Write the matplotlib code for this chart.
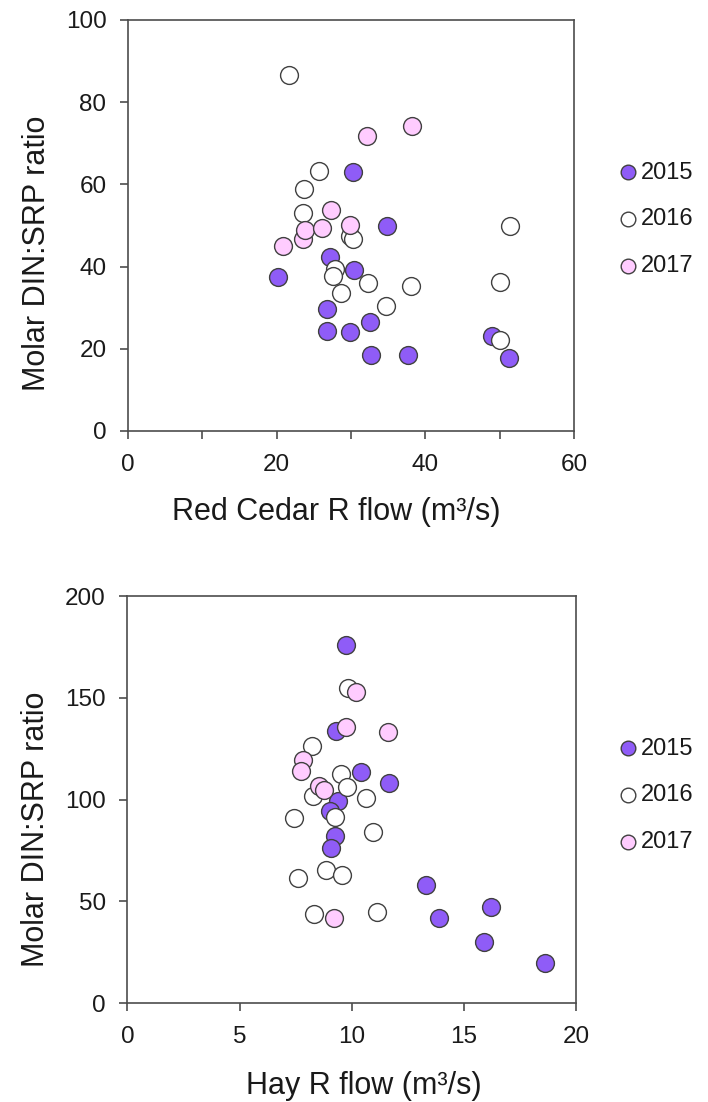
import matplotlib
matplotlib.use("Agg")
import matplotlib.pyplot as plt
from matplotlib.ticker import MultipleLocator

plt.rcParams['font.family'] = ['Liberation Sans', 'DejaVu Sans']

years = ['2015', '2016', '2017']
face_colors = ['#8f5cf7', '#ffffff', '#ffccff']

# Red Cedar R
rc_x_2015 = [30.2, 34.9, 27.2, 30.4, 20.2, 26.8, 32.6, 26.8, 29.9, 48.9, 32.7, 37.6, 51.3]
rc_y_2015 = [63.1, 49.8, 42.3, 39.1, 37.4, 29.6, 26.4, 24.4, 24.0, 23.1, 18.5, 18.5, 17.8]
rc_x_2016 = [21.6, 25.7, 23.7, 23.6, 29.9, 30.3, 51.4, 27.8, 27.6, 32.3, 38.1, 50.0, 28.6, 34.7, 50.0]
rc_y_2016 = [86.7, 63.2, 58.9, 53.0, 47.4, 46.6, 49.8, 39.3, 37.7, 35.9, 35.3, 36.2, 33.6, 30.3, 22.1]
rc_x_2017 = [32.2, 38.2, 27.3, 23.6, 23.8, 26.1, 29.9, 20.9]
rc_y_2017 = [71.7, 74.1, 53.8, 46.8, 48.8, 49.4, 50.0, 45.1]

# Hay R
hay_x_2015 = [9.75, 9.29, 10.43, 11.65, 9.37, 9.04, 9.26, 9.08, 13.33, 16.20, 13.90, 15.90, 18.61]
hay_y_2015 = [175.9, 133.7, 113.4, 108.3, 99.3, 94.3, 82.1, 76.3, 58.0, 47.3, 41.6, 30.1, 19.8]
hay_x_2016 = [9.83, 8.25, 9.52, 9.81, 10.65, 8.26, 9.26, 7.44, 10.93, 8.84, 7.62, 9.56, 8.32, 11.15]
hay_y_2016 = [154.6, 126.3, 112.5, 106.3, 100.9, 101.9, 91.5, 91.1, 84.2, 65.4, 61.6, 62.9, 43.7, 44.9]
hay_x_2017 = [10.2, 9.75, 11.6, 7.84, 7.73, 8.52, 8.77, 9.23]
hay_y_2017 = [152.7, 135.5, 133.0, 119.4, 114.2, 106.8, 104.7, 41.6]

edge = '#404040'
spine_c = '#4d4d4d'
txt_c = '#1a1a1a'


def panel(ax, xs, ys, ylab_xy, xlab_xy, leg_xy):
    for x, y, fc, lab in zip(xs, ys, face_colors, years):
        ax.scatter(x, y, s=165, facecolor=fc, edgecolor=edge, linewidth=1.0,
                   label=lab, zorder=3, clip_on=False)
    for s in ax.spines.values():
        s.set_color(spine_c)
        s.set_linewidth(1.2)
    ax.tick_params(which='both', direction='out', color=spine_c, width=1.2,
                   length=6, labelsize=17.5, labelcolor=txt_c)
    ax.tick_params(axis='y', pad=9.5)
    ax.tick_params(axis='x', pad=10.5)
    ax.set_ylabel('Molar DIN:SRP ratio', fontsize=22, color=txt_c)
    ax.yaxis.set_label_coords(*ylab_xy)
    ax.xaxis.set_label_coords(*xlab_xy)
    ax.legend(loc='center left', bbox_to_anchor=leg_xy, frameon=False,
              fontsize=17, markerscale=0.82, handletextpad=0.14,
              labelspacing=1.05, handlelength=0.8, borderpad=0,
              borderaxespad=0, labelcolor=txt_c)


fig = plt.figure(figsize=(7.08, 11.02), dpi=100)

ax1 = fig.add_axes([0.1808, 0.6089, 0.630, 0.373])
ax1.set_xlim(0, 60)
ax1.set_ylim(0, 100)
ax1.xaxis.set_major_locator(MultipleLocator(20))
ax1.xaxis.set_minor_locator(MultipleLocator(10))
ax1.yaxis.set_major_locator(MultipleLocator(20))
ax1.set_xlabel('Red Cedar R flow (m³/s)', fontsize=22, color=txt_c)
panel(ax1, [rc_x_2015, rc_x_2016, rc_x_2017], [rc_y_2015, rc_y_2016, rc_y_2017],
      (-0.1715, 0.433), (0.466, -0.16), (1.100, 0.515))

ax2 = fig.add_axes([0.180, 0.0898, 0.6335, 0.3693])
ax2.set_xlim(0, 20)
ax2.set_ylim(0, 200)
ax2.xaxis.set_major_locator(MultipleLocator(5))
ax2.yaxis.set_major_locator(MultipleLocator(50))
ax2.set_xlabel('Hay R flow (m³/s)', fontsize=22, color=txt_c)
panel(ax2, [hay_x_2015, hay_x_2016, hay_x_2017], [hay_y_2015, hay_y_2016, hay_y_2017],
      (-0.1695, 0.4275), (0.527, -0.167), (1.095, 0.510))

fig.savefig('out.png', dpi=100)
